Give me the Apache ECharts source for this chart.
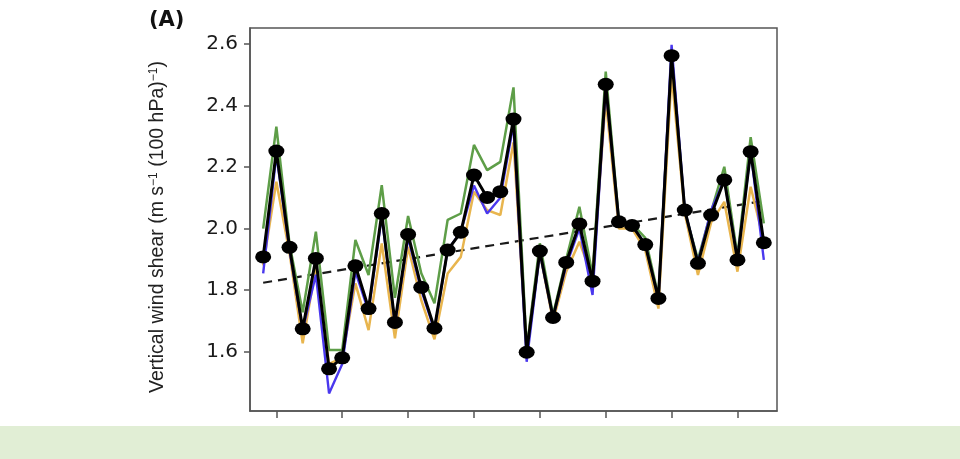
<!DOCTYPE html>
<html>
<head>
<meta charset="utf-8">
<script src="https://cdn.jsdelivr.net/npm/echarts@6/dist/echarts.min.js"></script>
<style>
  html, body { margin: 0; padding: 0; background: #fff; }
  #chart { width: 960px; height: 459px; }
</style>
</head>
<body>
<div id="chart"></div>
<script>
// years 1979-2017
const years = []
for (let y = 1979; y <= 2017; y++) years.push(y)

// black line with dots (mean)
const meanShear = [1.908, 2.252, 1.939, 1.674, 1.903, 1.544, 1.580, 1.879, 1.740, 2.049,
  1.695, 1.981, 1.809, 1.676, 1.930, 1.988, 2.174, 2.101, 2.120, 2.356,
  1.598, 1.927, 1.711, 1.890, 2.015, 1.829, 2.469, 2.022, 2.010, 1.948,
  1.773, 2.562, 2.060, 1.887, 2.044, 2.158, 1.898, 2.250, 1.954]

const greenShear = [2.000, 2.331, 1.950, 1.728, 1.990, 1.605, 1.605, 1.963, 1.849, 2.141,
  1.775, 2.041, 1.855, 1.757, 2.028, 2.049, 2.272, 2.190, 2.217, 2.459,
  1.610, 1.952, 1.720, 1.900, 2.071, 1.850, 2.510, 2.025, 2.015, 1.970,
  1.780, 2.570, 2.055, 1.900, 2.055, 2.201, 1.910, 2.297, 2.017]

const yellowShear = [1.880, 2.152, 1.920, 1.627, 1.876, 1.560, 1.580, 1.822, 1.670, 1.952,
  1.643, 1.941, 1.767, 1.640, 1.854, 1.908, 2.120, 2.060, 2.044, 2.280,
  1.600, 1.920, 1.700, 1.860, 1.957, 1.840, 2.420, 2.000, 2.000, 1.930,
  1.740, 2.500, 2.050, 1.849, 2.020, 2.087, 1.860, 2.136, 1.960]

const blueShear = [1.854, 2.240, 1.930, 1.670, 1.850, 1.464, 1.560, 1.860, 1.730, 2.040,
  1.690, 1.970, 1.800, 1.670, 1.930, 1.990, 2.140, 2.049, 2.100, 2.340,
  1.567, 1.920, 1.710, 1.880, 2.000, 1.784, 2.460, 2.020, 2.010, 1.950,
  1.770, 2.597, 2.060, 1.890, 2.060, 2.160, 1.900, 2.250, 1.898]

// linear trend end points
const trendYears = [1979, 2017]
const trendValues = [1.824, 2.090]

const xTicks = [1980, 1985, 1990, 1995, 2000, 2005, 2010, 2015]
const yTicks = [1.6, 1.8, 2.0, 2.2, 2.4, 2.6]

const pairs = (xs, vs) => xs.map((x, i) => [x, vs[i]])

const chart = echarts.init(document.getElementById('chart'))

const lineSeries = (data, color, width, z) => ({
  type: 'line',
  data: data,
  symbol: 'none',
  lineStyle: { color: color, width: width },
  z: z
})

const option = {
  animation: false,
  grid: {
    left: 250, right: 183, top: 28, bottom: 48,
    show: true, borderColor: '#555', borderWidth: 1.5, backgroundColor: '#fff'
  },
  xAxis: {
    type: 'value',
    min: 1978,
    max: 2018,
    axisLine: { show: true, lineStyle: { color: '#555', width: 1.5 } },
    axisTick: { show: true, length: 7, customValues: xTicks, lineStyle: { color: '#555', width: 1.5 } },
    axisLabel: { show: false },
    splitLine: { show: false }
  },
  yAxis: {
    type: 'value',
    min: 1.407,
    max: 2.652,
    name: '{a|Vertical wind shear (m s}{s|−1}{a| (100 hPa)}{s|−1}{a|)}',
    nameLocation: 'middle',
    nameGap: 82,
    nameTextStyle: {
      padding: [0, 15, 0, 0],
      rich: {
        a: { fontSize: 19.5, fontFamily: 'Liberation Sans', color: '#222' },
        s: { fontSize: 12, fontFamily: 'Liberation Sans', color: '#222', verticalAlign: 'top', padding: [0, 0, 8, 0] }
      }
    },
    axisLine: { show: true, lineStyle: { color: '#555', width: 1.5 } },
    axisTick: { show: true, length: 6, customValues: yTicks, lineStyle: { color: '#555', width: 1.5 } },
    axisLabel: {
      customValues: yTicks,
      margin: 12,
      fontSize: 20,
      fontFamily: 'DejaVu Sans',
      color: '#1a1a1a',
      formatter: v => v.toFixed(1)
    },
    splitLine: { show: false }
  },
  graphic: [
    {
      type: 'rect',
      shape: { x: 0, y: 426, width: 960, height: 33 },
      style: { fill: '#e1eed5' },
      z: 100
    },
    {
      type: 'text',
      left: 149,
      top: 10,
      style: { text: '(A)', font: 'bold 21px "DejaVu Sans"', fill: '#111' }
    }
  ],
  series: [
    {
      type: 'line',
      data: pairs(trendYears, trendValues),
      symbol: 'none',
      lineStyle: { color: '#1a1a1a', width: 2.2, type: [9, 6] },
      z: 1
    },
    lineSeries(pairs(years, greenShear), '#5e9e48', 2.5, 2),
    lineSeries(pairs(years, yellowShear), '#e8b54e', 2.5, 3),
    lineSeries(pairs(years, blueShear), '#4a38ee', 2.4, 4),
    {
      type: 'line',
      data: pairs(years, meanShear),
      symbol: 'circle',
      symbolSize: [16, 13],
      itemStyle: { color: '#000' },
      lineStyle: { color: '#000', width: 3 },
      z: 5
    }
  ]
}

chart.setOption(option)
</script>
</body>
</html>
